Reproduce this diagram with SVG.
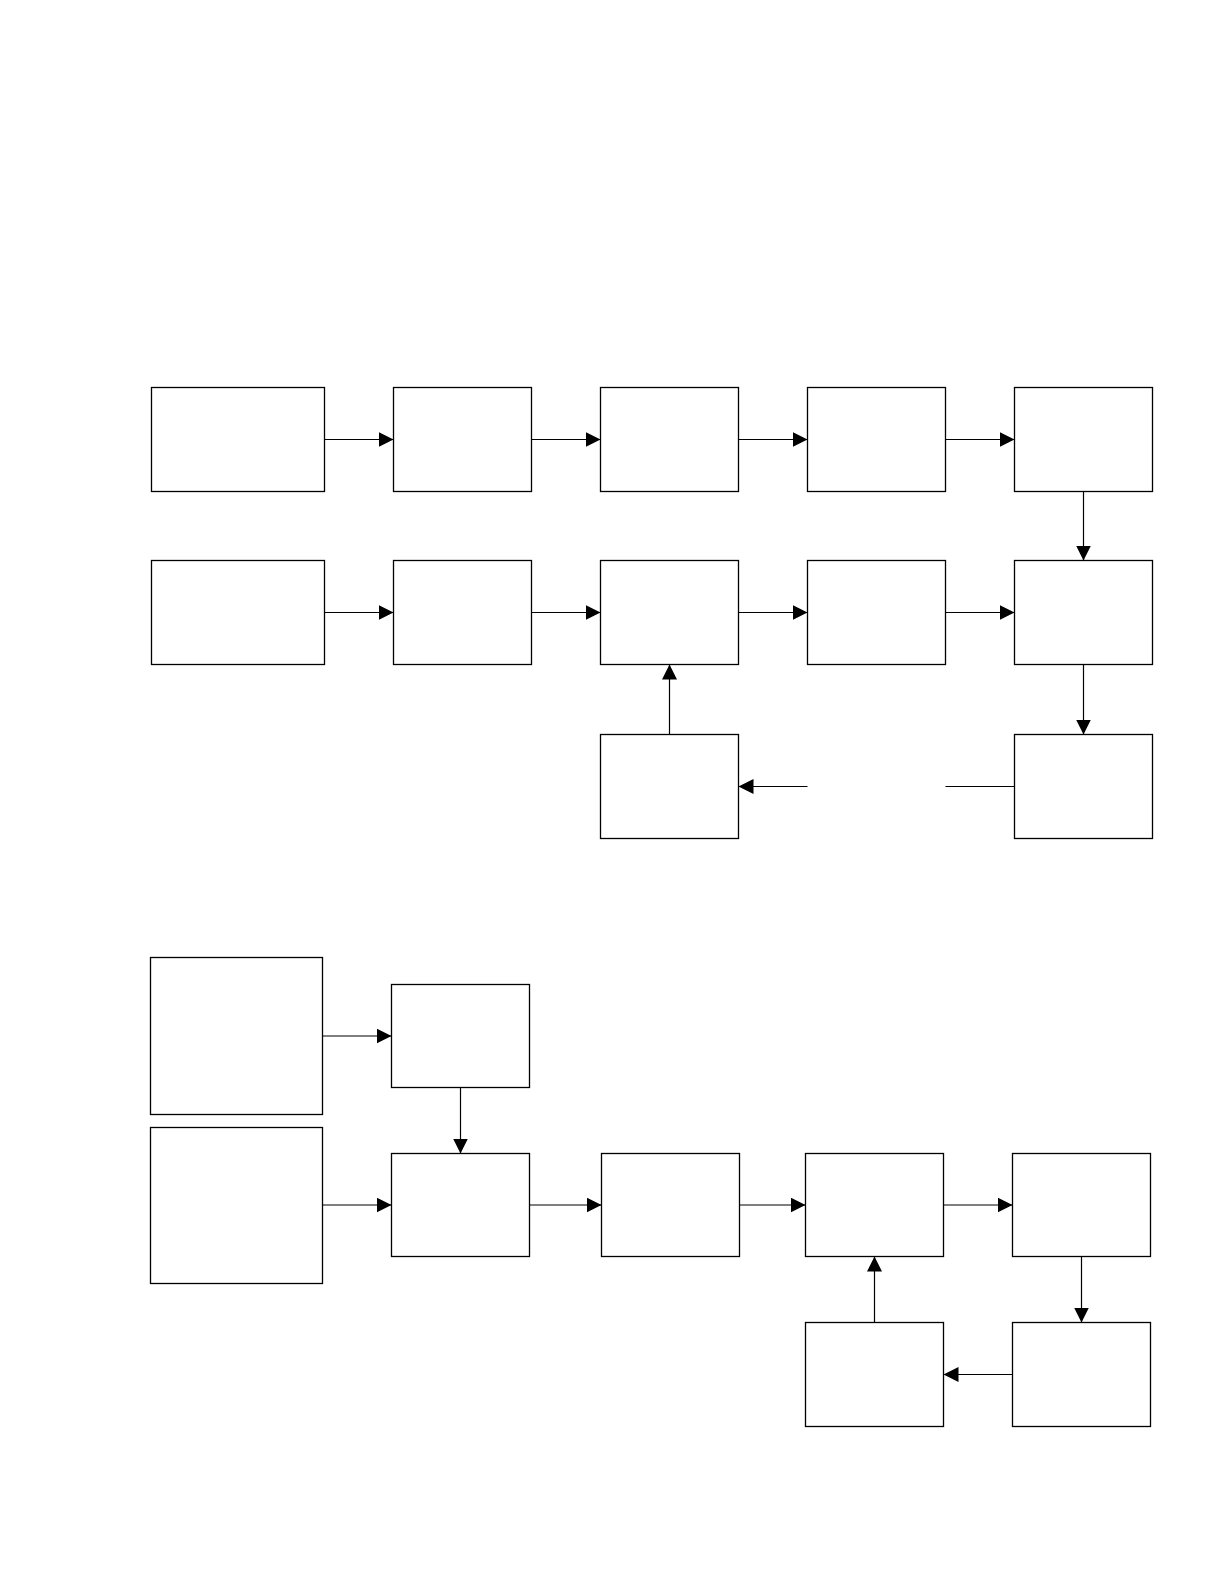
<svg xmlns="http://www.w3.org/2000/svg" width="1224" height="1584" viewBox="0 0 1224 1584">
<style>
.box{fill:#fff;stroke:#000;stroke-width:1.3}
.con{fill:none;stroke:#000;stroke-width:1.2}
.arr{marker-end:url(#ah)}
</style>
<defs>
<marker id="ah" markerUnits="userSpaceOnUse" markerWidth="15" markerHeight="15" refX="15" refY="7.5" orient="auto">
<path d="M0,0 L15,7.5 L0,15 z" fill="#000"/>
</marker>
</defs>
<rect width="1224" height="1584" fill="#fff"/>
<g id="connectors">
<line class="con arr" x1="324.5" y1="439.5" x2="393.5" y2="439.5"/>
<line class="con arr" x1="531.5" y1="439.5" x2="600.5" y2="439.5"/>
<line class="con arr" x1="738.5" y1="439.5" x2="807.5" y2="439.5"/>
<line class="con arr" x1="945.5" y1="439.5" x2="1014.5" y2="439.5"/>
<line class="con arr" x1="1083.5" y1="491.5" x2="1083.5" y2="560.5"/>
<line class="con arr" x1="324.5" y1="612.5" x2="393.5" y2="612.5"/>
<line class="con arr" x1="531.5" y1="612.5" x2="600.5" y2="612.5"/>
<line class="con arr" x1="738.5" y1="612.5" x2="807.5" y2="612.5"/>
<line class="con arr" x1="945.5" y1="612.5" x2="1014.5" y2="612.5"/>
<line class="con arr" x1="1083.5" y1="664.5" x2="1083.5" y2="734.5"/>
<line class="con" x1="1014.5" y1="786.5" x2="945.5" y2="786.5"/>
<line class="con arr" x1="807.5" y1="786.5" x2="738.5" y2="786.5"/>
<line class="con arr" x1="669.5" y1="734.5" x2="669.5" y2="664.5"/>
<line class="con arr" x1="322.5" y1="1036" x2="391.5" y2="1036"/>
<line class="con arr" x1="460.5" y1="1087.5" x2="460.5" y2="1153.5"/>
<line class="con arr" x1="322.5" y1="1205" x2="391.5" y2="1205"/>
<line class="con arr" x1="529.5" y1="1205" x2="601.5" y2="1205"/>
<line class="con arr" x1="739.5" y1="1205" x2="805.5" y2="1205"/>
<line class="con arr" x1="943.5" y1="1205" x2="1012.5" y2="1205"/>
<line class="con arr" x1="1081.5" y1="1256.5" x2="1081.5" y2="1322.5"/>
<line class="con arr" x1="1012.5" y1="1374.5" x2="943.5" y2="1374.5"/>
<line class="con arr" x1="874.5" y1="1322.5" x2="874.5" y2="1256.5"/>
</g>
<g id="r1n1"><rect class="box" x="151.5" y="387.5" width="173" height="104"/></g>
<g id="r1n2"><rect class="box" x="393.5" y="387.5" width="138" height="104"/></g>
<g id="r1n3"><rect class="box" x="600.5" y="387.5" width="138" height="104"/></g>
<g id="r1n4"><rect class="box" x="807.5" y="387.5" width="138" height="104"/></g>
<g id="r1n5"><rect class="box" x="1014.5" y="387.5" width="138" height="104"/></g>
<g id="r2n1"><rect class="box" x="151.5" y="560.5" width="173" height="104"/></g>
<g id="r2n2"><rect class="box" x="393.5" y="560.5" width="138" height="104"/></g>
<g id="r2n3"><rect class="box" x="600.5" y="560.5" width="138" height="104"/></g>
<g id="r2n4"><rect class="box" x="807.5" y="560.5" width="138" height="104"/></g>
<g id="r2n5"><rect class="box" x="1014.5" y="560.5" width="138" height="104"/></g>
<g id="r3n3"><rect class="box" x="600.5" y="734.5" width="138" height="104"/></g>
<g id="r3n5"><rect class="box" x="1014.5" y="734.5" width="138" height="104"/></g>
<g id="bA"><rect class="box" x="150.5" y="957.5" width="172" height="157"/></g>
<g id="bB"><rect class="box" x="150.5" y="1127.5" width="172" height="156"/></g>
<g id="bC"><rect class="box" x="391.5" y="984.5" width="138" height="103"/></g>
<g id="bD"><rect class="box" x="391.5" y="1153.5" width="138" height="103"/></g>
<g id="bE"><rect class="box" x="601.5" y="1153.5" width="138" height="103"/></g>
<g id="bF"><rect class="box" x="805.5" y="1153.5" width="138" height="103"/></g>
<g id="bG"><rect class="box" x="1012.5" y="1153.5" width="138" height="103"/></g>
<g id="bI"><rect class="box" x="805.5" y="1322.5" width="138" height="104"/></g>
<g id="bH"><rect class="box" x="1012.5" y="1322.5" width="138" height="104"/></g>
</svg>
